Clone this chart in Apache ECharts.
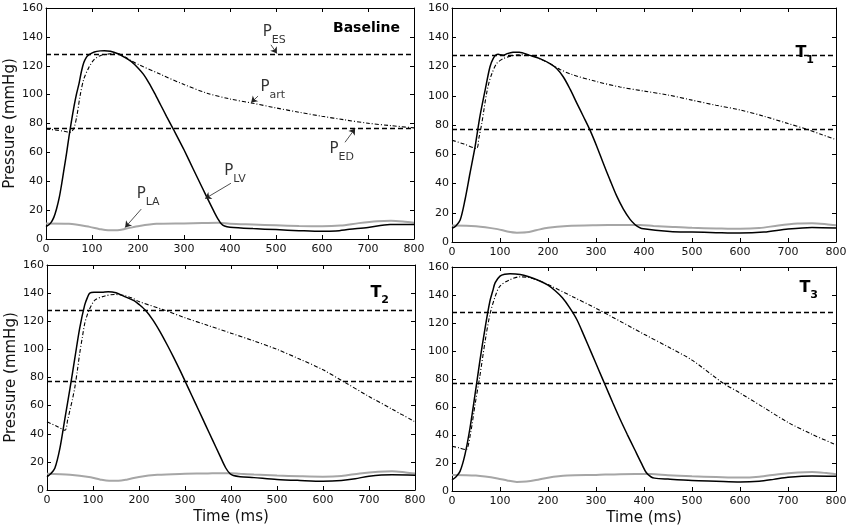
<!DOCTYPE html>
<html>
<head>
<meta charset="utf-8">
<script src="https://cdn.jsdelivr.net/npm/echarts@6.0.0/dist/echarts.min.js"></script>
<style>
  html, body { margin: 0; padding: 0; background: #fff; }
  #chart { width: 851px; height: 530px; }
</style>
</head>
<body>
<div id="chart"></div>
<script>
// reference pressures (mmHg), same in all panels
var pES = 128;
var pED = 77;

// axis ticks
var timeTicks = [0, 800, 100];
var pressTicks = [0, 160, 20];

// Baseline
var tBaseLv = [0, 10, 17, 23, 29, 34, 39, 45, 50, 55, 61, 66, 72, 77, 82, 88, 93, 105, 118, 127, 140, 155, 170, 185, 200, 212, 224, 236, 249, 262, 277, 290, 300, 320, 340, 355, 366, 374, 381, 388, 400, 450, 500, 550, 600, 630, 660, 700, 748, 800];
var pBaseLv = [8.5, 11, 15, 21, 29, 38, 48, 60, 71, 81, 92, 100, 108, 116, 122, 126, 127.5, 129.5, 130.3, 130.4, 130, 128.5, 126, 123, 118.5, 114, 108, 101, 93, 85, 76, 68, 61.8, 48.5, 35.3, 25.5, 18.5, 13.8, 10.5, 9, 8.2, 7.2, 6.5, 5.8, 5.3, 5.6, 6.7, 8, 10, 10];
var tBaseArt = [0, 20, 40, 52, 56, 61, 67, 74, 82, 93, 104, 118, 140, 155, 170, 185, 200, 250, 300, 350, 400, 450, 500, 550, 600, 650, 700, 750, 800];
var pBaseArt = [76.2, 75.5, 74.6, 73.9, 74.5, 77, 85, 99, 110.6, 118.7, 124, 127, 128.3, 128.5, 126.5, 123.5, 121, 113.9, 107, 101, 97, 94, 90.8, 87.8, 85, 82.5, 80.2, 78.5, 77];
var tBaseLa = [0, 50, 95, 115, 135, 155, 175, 203, 240, 300, 340, 375, 400, 450, 500, 550, 600, 640, 680, 720, 750, 780, 800];
var pBaseLa = [10.8, 10.5, 8.4, 7, 6, 6, 7.2, 9, 10.5, 10.8, 11, 11.2, 10.5, 10, 9.5, 9, 8.8, 9.3, 11, 12.3, 12.6, 12, 11.3];

// T1
var tT1Lv = [0, 8, 17, 27, 37.5, 48, 58, 69, 79, 86, 92, 96, 100, 107, 115, 127, 140, 162, 183, 204, 218, 232, 246, 260, 273.5, 287.5, 301.5, 315, 329, 343, 357, 371, 381, 388, 395, 454, 500, 550, 600, 650, 700, 750, 800];
var pT1Lv = [9.4, 11, 15, 28.7, 47, 65, 85.5, 103.8, 119.7, 125.5, 128, 128.4, 128, 127.7, 128.8, 129.7, 129.8, 127.6, 125.4, 122, 118.6, 112.8, 104.5, 95, 86, 76.5, 65.5, 54, 42.5, 31.5, 22.5, 15.5, 12, 10.4, 9.3, 7.2, 6.8, 6.4, 6.1, 6.8, 8.9, 10, 9.6];
var tT1Art = [0, 25, 51, 56, 62, 67, 72, 77, 83, 93, 107, 124, 140, 156, 170, 185, 204, 225, 250, 300, 350, 400, 450, 500, 550, 600, 650, 700, 740, 770, 800];
var pT1Art = [69.6, 67, 64, 71, 81, 91.5, 101.5, 109, 115, 122, 125.4, 127.2, 128, 128, 127, 125, 122, 118, 114.5, 109.8, 106, 103.2, 100.5, 97, 93.5, 90.3, 86, 81, 77, 73.5, 70];
var tT1La = [0, 50, 95, 115, 135, 155, 175, 200, 240, 300, 350, 392, 420, 460, 500, 550, 600, 640, 680, 720, 750, 780, 800];
var pT1La = [11.2, 10.8, 8.8, 7.2, 6.4, 6.6, 8, 9.8, 11, 11.5, 11.6, 11.6, 11, 10.3, 9.7, 9.3, 9, 9.5, 11.3, 12.6, 12.8, 12.2, 11.5];

// T2
var tT2Lv = [0, 8, 17, 28, 39, 50, 60.5, 71, 82, 88, 93, 104, 120, 133, 150, 169, 190, 200, 215, 230, 245, 260, 275, 290, 300, 315, 330, 345, 360, 375, 388, 398, 405, 420, 450, 500, 550, 600, 640, 670, 700, 750, 800];
var pT2Lv = [9.4, 11.5, 15.4, 29.6, 51, 72.3, 93.7, 115, 131.6, 137, 140, 140.6, 140.7, 141, 140.2, 137.5, 134.5, 132, 127.5, 121, 113, 104, 94.5, 84.5, 77.5, 67, 56.5, 46, 35.5, 25, 16, 11.5, 10.3, 9.5, 8.8, 7.5, 6.8, 6.3, 6.8, 8, 9.8, 10.8, 10.5];
var tT2Art = [0, 20, 39, 45, 50, 55, 60.5, 66, 71, 77, 82, 88, 93, 104, 126, 147, 165, 185, 200, 250, 300, 350, 400, 450, 500, 550, 600, 645, 700, 750, 800];
var pT2Art = [48.5, 45.5, 42.5, 50, 57, 64, 73, 85, 97, 109, 118.4, 125, 129, 135, 138, 139, 138.5, 136.5, 134, 128.5, 122.5, 117, 111.5, 106, 100, 93, 85.5, 77, 66.5, 57.5, 48.5];
var tT2La = [0, 50, 95, 115, 135, 155, 175, 200, 240, 300, 350, 400, 420, 450, 500, 550, 600, 640, 680, 720, 750, 780, 800];
var pT2La = [11.5, 10.8, 9, 7.5, 6.5, 6.5, 7.5, 9.3, 10.8, 11.5, 11.8, 12, 11.5, 11, 10.3, 9.8, 9.5, 10, 11.8, 13, 13.3, 12.5, 11.8];

// T3
var tT3Lv = [0, 8, 16.7, 27, 37.5, 48, 58, 69, 79, 85, 90, 100, 110, 121, 142, 160, 183, 200, 215, 230, 245, 260, 275, 290, 305, 320, 335, 350, 365, 380, 395, 405, 415, 422, 450, 500, 550, 600, 640, 670, 700, 750, 800];
var pT3Lv = [8, 10, 14, 26, 45, 69, 92.7, 116.6, 135.6, 143, 148.8, 153.5, 154.8, 155.2, 154.7, 153, 150, 147, 143, 138, 131, 122.5, 111, 99, 87, 75, 63, 51.4, 40.5, 30, 19.5, 13, 10, 9.2, 8.5, 7.5, 7, 6.5, 7, 8.3, 9.8, 10.8, 10.5];
var tT3Art = [0, 15, 29, 38, 48, 58, 69, 79, 90, 100, 121, 142, 160, 183, 200, 250, 300, 330, 400, 450, 500, 565, 600, 650, 700, 750, 800];
var pT3Art = [32, 30.8, 29.5, 40, 61.7, 82, 107, 126, 139, 146.4, 151, 153, 152.5, 150, 147.5, 139, 130.5, 125, 112, 103, 93.5, 77, 70, 59.5, 49, 40.5, 33];
var tT3La = [0, 50, 95, 115, 135, 155, 175, 200, 240, 300, 350, 415, 450, 500, 550, 600, 640, 680, 720, 750, 780, 800];
var pT3La = [11.5, 11, 9, 7.5, 6.5, 6.8, 7.8, 9.5, 11, 11.5, 12, 12.2, 11.3, 10.5, 10, 9.6, 10.2, 12, 13.2, 13.5, 12.8, 12];

// labels in the baseline panel (subscripts)
var annoSub = ['ES', 'art', 'ED', 'LV', 'LA'];

var FONT = 'DejaVu Sans';

function zip(t, p) {
    var out = [];
    for (var i = 0; i < t.length; i++) {
        out.push([t[i], p[i]]);
    }
    return out;
}

var panels = [
    {title: '{b|Baseline}', box: {left: 46, top: 8, width: 368, height: 231}, lv: zip(tBaseLv, pBaseLv), art: zip(tBaseArt, pBaseArt), la: zip(tBaseLa, pBaseLa), yName: true, xName: false},
    {title: '{t|T}{s|1}', box: {left: 452, top: 8, width: 384, height: 234}, lv: zip(tT1Lv, pT1Lv), art: zip(tT1Art, pT1Art), la: zip(tT1La, pT1La), yName: false, xName: false},
    {title: '{t|T}{s|2}', box: {left: 47, top: 265, width: 368, height: 225}, lv: zip(tT2Lv, pT2Lv), art: zip(tT2Art, pT2Art), la: zip(tT2La, pT2La), yName: true, xName: true},
    {title: '{t|T}{s|3}', box: {left: 452, top: 267, width: 384, height: 224}, lv: zip(tT3Lv, pT3Lv), art: zip(tT3Art, pT3Art), la: zip(tT3La, pT3La), yName: false, xName: true}
];
var titlePos = [
    {right: 446, top: 16},
    {right: 32, top: 40},
    {right: 457, top: 280},
    {right: 28, top: 275}
];

var titleRich = {
    b: {fontSize: 14, fontWeight: 'bold', fontFamily: FONT, color: '#000'},
    t: {fontSize: 16, fontWeight: 'bold', fontFamily: FONT, color: '#000', verticalAlign: 'bottom', padding: [0, 0, 5, 0]},
    s: {fontSize: 11, fontWeight: 'bold', fontFamily: FONT, color: '#000', verticalAlign: 'bottom'}
};
var annoRich = {
    p: {fontSize: 15, fontFamily: FONT, color: '#000', verticalAlign: 'bottom', padding: [0, 0, 6, 0]},
    s: {fontSize: 11, fontFamily: FONT, color: '#000', verticalAlign: 'bottom'}
};

function tickAxis(i, type, pos) {
    var tk = type === 'x' ? timeTicks : pressTicks;
    return {
        type: 'value',
        gridIndex: i,
        position: pos,
        min: tk[0],
        max: tk[1],
        interval: tk[2],
        axisLine: {show: true, onZero: false, lineStyle: {color: '#000', width: 1}},
        axisTick: {show: true, inside: true, length: 4, lineStyle: {color: '#000', width: 1}},
        splitLine: {show: false},
        axisLabel: {show: false}
    };
}

var grids = [], xAxes = [], yAxes = [], series = [], titles = [];

panels.forEach(function (pn, i) {
    grids.push(pn.box);
    titles.push({text: pn.title, right: titlePos[i].right, top: titlePos[i].top, textStyle: {rich: titleRich}});

    var xb = tickAxis(i, 'x', 'bottom');
    xb.axisLabel = {show: true, color: '#111', fontSize: 11, fontFamily: FONT, margin: 5};
    if (pn.xName) {
        xb.name = 'Time (ms)';
        xb.nameLocation = 'middle';
        xb.nameGap = 20;
        xb.nameTextStyle = {fontSize: 15, fontFamily: FONT, color: '#111'};
    }
    xAxes.push(xb);
    xAxes.push(tickAxis(i, 'x', 'top'));

    var yl = tickAxis(i, 'y', 'left');
    yl.axisLabel = {show: true, color: '#111', fontSize: 11, fontFamily: FONT, margin: 3};
    if (pn.yName) {
        yl.name = 'Pressure (mmHg)';
        yl.nameLocation = 'middle';
        yl.nameGap = 28;
        yl.nameTextStyle = {fontSize: 15, fontFamily: FONT, color: '#111'};
    }
    yAxes.push(yl);
    yAxes.push(tickAxis(i, 'y', 'right'));

    series.push({
        type: 'line', xAxisIndex: 2 * i, yAxisIndex: 2 * i, data: pn.la,
        showSymbol: false, smooth: 0.3, silent: true, z: 1,
        lineStyle: {color: '#a6a6a6', width: 2}
    });
    series.push({
        type: 'line', xAxisIndex: 2 * i, yAxisIndex: 2 * i, data: pn.art,
        showSymbol: false, smooth: 0.3, silent: true, z: 2,
        lineStyle: {color: '#000', width: 1.1, type: [4, 2, 1, 2]}
    });
    series.push({
        type: 'line', xAxisIndex: 2 * i, yAxisIndex: 2 * i, data: pn.lv,
        showSymbol: false, smooth: 0.3, silent: true, z: 3,
        lineStyle: {color: '#000', width: 1.5},
        markLine: {
            silent: true, symbol: 'none', label: {show: false},
            lineStyle: {color: '#000', width: 1.3, type: [5, 3]},
            data: [{yAxis: pES}, {yAxis: pED}]
        }
    });
});

// arrows + labels for the baseline panel (data coords)
var annoAt = [[496, 141], [493, 103], [643, 60], [411, 45], [222, 29]];
var arrows = [
    [[489, 134.5], [502, 128.5]],
    [[461, 99], [446, 94.5]],
    [[650, 67], [672, 76.5]],
    [[402, 38.6], [346, 28]],
    [[207, 20.7], [172, 8]]
];
series.push({
    type: 'scatter', xAxisIndex: 0, yAxisIndex: 0, silent: true, z: 5,
    symbolSize: 1,
    itemStyle: {color: 'rgba(0,0,0,0)'},
    data: annoAt.map(function (c, k) { return [c[0], c[1], annoSub[k]]; }),
    label: {
        show: true, position: 'inside',
        formatter: function (p) { return '{p|P}{s|' + p.value[2] + '}'; },
        rich: annoRich
    },
    markLine: {
        silent: true, symbol: ['none', 'arrow'], symbolSize: 6, label: {show: false},
        lineStyle: {color: '#222', width: 0.8, type: 'solid'},
        data: arrows.map(function (a) { return [{coord: a[0]}, {coord: a[1]}]; })
    }
});

var myChart = echarts.init(document.getElementById('chart'));
myChart.setOption({
    animation: false,
    backgroundColor: '#fff',
    title: titles,
    grid: grids,
    xAxis: xAxes,
    yAxis: yAxes,
    series: series
});
</script>
</body>
</html>
